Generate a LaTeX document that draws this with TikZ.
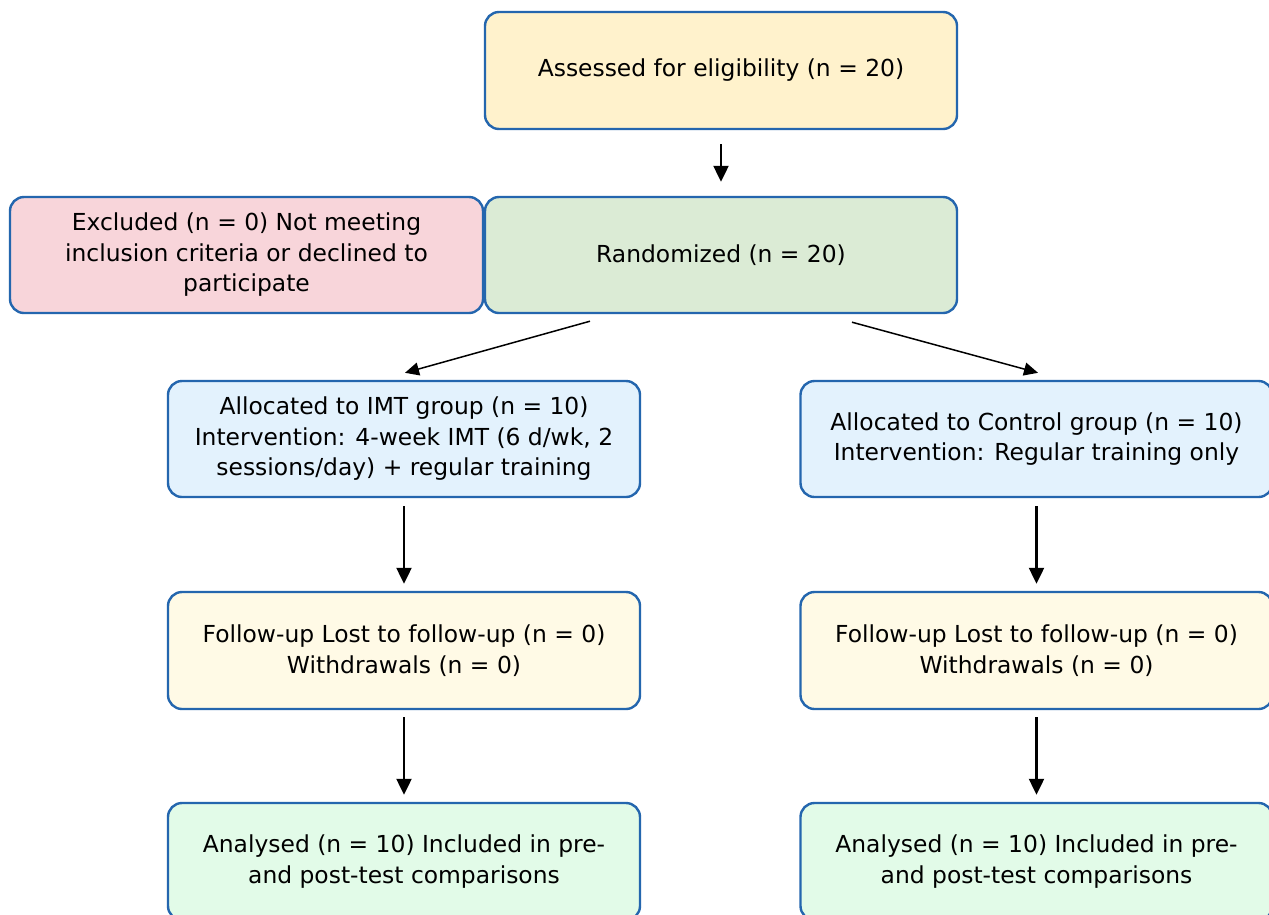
\documentclass[tikz,border=0pt]{standalone}
\usepackage{fontspec}
\setmainfont{DejaVu Sans}
\usetikzlibrary{arrows.meta}
\definecolor{bordc}{HTML}{2466AE}
\definecolor{cAssess}{HTML}{FFF2CC}
\definecolor{cExcl}{HTML}{F8D5DA}
\definecolor{cRand}{HTML}{DBEBD5}
\definecolor{cAlloc}{HTML}{E3F2FD}
\definecolor{cFollow}{HTML}{FFFAE6}
\definecolor{cAnal}{HTML}{E2FBE8}
\begin{document}
\begin{tikzpicture}[x=1pt,y=-1pt,
  box/.style={draw=bordc, line width=2.4pt, rounded corners=14pt,
    minimum width=472pt, minimum height=117pt, align=center, inner sep=0pt,
    font=\fontsize{23.4}{30.5}\selectfont},
  arr/.style={-{Triangle[length=16pt,width=15pt]}, line width=2.2pt, black},
  darr/.style={-{Triangle[length=14pt,width=13pt]}, line width=1.5pt, black}]
\useasboundingbox (0,0) rectangle (1269,914);
\fill[white] (0,0) rectangle (1269,914);
\clip (0,0) rectangle (1269,914);
\node[box, fill=cAssess] (assess) at (721,70.5) {Assessed for eligibility (n = 20)};
\node[box, fill=cExcl, minimum width=473pt, minimum height=116pt] (excl) at (246.5,255) {Excluded (n = 0) Not meeting\\inclusion criteria or declined to\\participate};
\node[box, fill=cRand, minimum height=116pt] (rand) at (721,255) {Randomized (n = 20)};
\node[box, fill=cAlloc, minimum height=116pt] (imt) at (404,439) {Allocated to IMT group (n = 10)\\Intervention: 4-week IMT (6 d/wk, 2\\sessions/day) + regular training};
\node[box, fill=cAlloc, minimum height=116pt] (ctrl) at (1036.5,439) {Allocated to Control group (n = 10)\\Intervention: Regular training only};
\node[box, fill=cFollow] (fimt) at (404,650.5) {Follow-up Lost to follow-up (n = 0)\\Withdrawals (n = 0)};
\node[box, fill=cFollow] (fctrl) at (1036.5,650.5) {Follow-up Lost to follow-up (n = 0)\\Withdrawals (n = 0)};
\node[box, fill=cAnal] (aimt) at (404,861.5) {Analysed (n = 10) Included in pre-\\and post-test comparisons};
\node[box, fill=cAnal] (actrl) at (1036.5,861.5) {Analysed (n = 10) Included in pre-\\and post-test comparisons};
\draw[arr, shorten <=14pt, shorten >=14pt] (assess) -- (rand);
\draw[darr] ([xshift=-131pt,yshift=-7pt]rand.south) -- ([xshift=1pt,yshift=7pt]imt.north);
\draw[darr] ([xshift=131pt,yshift=-8pt]rand.south) -- ([xshift=1.5pt,yshift=7pt]ctrl.north);
\draw[arr, shorten <=8pt, shorten >=7pt] (imt) -- (fimt);
\draw[arr, shorten <=8pt, shorten >=7pt] (ctrl) -- (fctrl);
\draw[arr, shorten <=7pt, shorten >=7pt] (fimt) -- (aimt);
\draw[arr, shorten <=7pt, shorten >=7pt] (fctrl) -- (actrl);
\end{tikzpicture}
\end{document}
